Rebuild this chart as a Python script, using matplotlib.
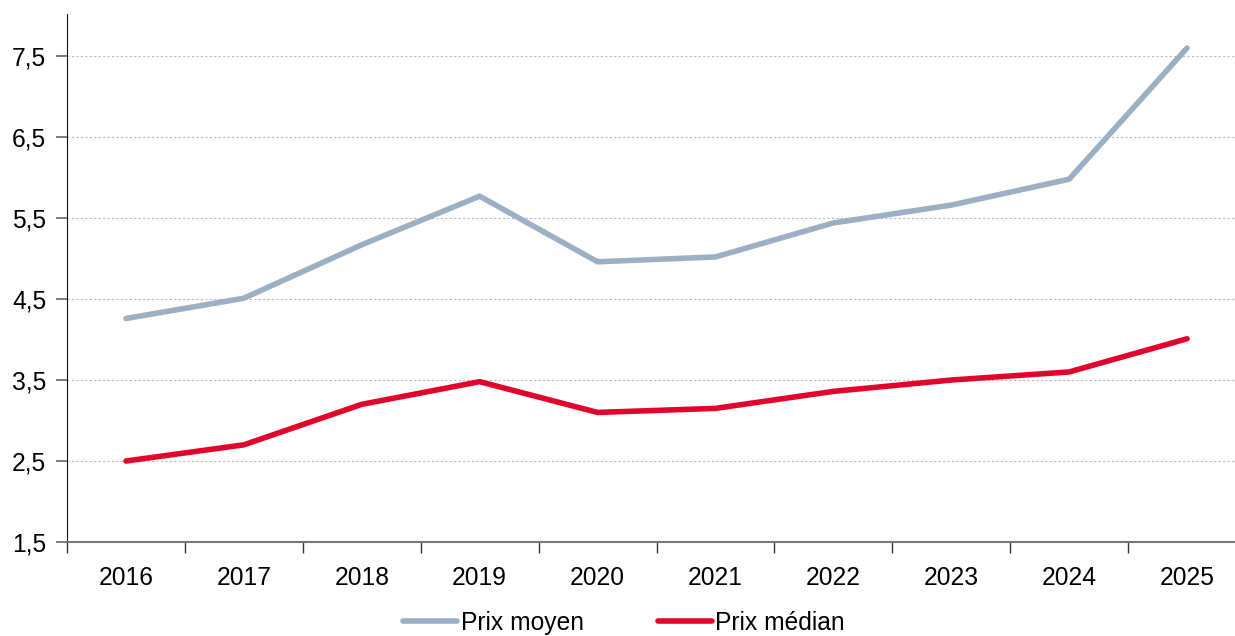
import numpy as np
import matplotlib.pyplot as plt
from matplotlib.ticker import FixedLocator, FuncFormatter

plt.rcParams['font.family'] = ['Liberation Sans', 'DejaVu Sans']

# Data
years = ["2016", "2017", "2018", "2019", "2020", "2021", "2022", "2023", "2024", "2025"]
prix_moyen = [4.26, 4.51, 5.17, 5.77, 4.96, 5.02, 5.44, 5.66, 5.98, 7.60]
prix_median = [2.50, 2.70, 3.20, 3.48, 3.10, 3.15, 3.36, 3.50, 3.60, 4.01]
yticks = [1.5, 2.5, 3.5, 4.5, 5.5, 6.5, 7.5]

fig = plt.figure(figsize=(12.35, 6.36), dpi=100)
ax = fig.add_axes([67 / 1235, 94 / 636, (1246 - 67) / 1235, 528 / 636])

x = np.arange(len(years))
ax.plot(x, prix_moyen, color='#9BB0C2', lw=4, label='Prix moyen', solid_capstyle='round')
ax.plot(x, prix_median, color='#E2052B', lw=4, label='Prix médian', solid_capstyle='round')

ax.set_xlim(-0.5, len(years) - 0.5)
ax.set_ylim(1.5, 8.02)

ax.set_yticks(yticks)
ax.yaxis.set_major_formatter(FuncFormatter(lambda v, p: f"{v:.1f}".replace('.', ',')))
ax.grid(axis='y', color='#BBBBBB', ls=(0, (2, 2)), lw=0.8)
ax.set_axisbelow(True)

# category labels centred, tick marks between categories
ax.set_xticks(x)
ax.set_xticklabels(years)
ax.xaxis.set_minor_locator(FixedLocator(np.arange(-0.5, len(years), 1.0)))
ax.tick_params(axis='x', which='major', length=0, pad=17, labelsize=17.7)
ax.tick_params(axis='x', which='minor', length=8, color='#333333', width=1)
ax.tick_params(axis='y', length=8, color='#666666', width=1.2, labelsize=17.7, pad=7)

for s in ['top', 'right']:
    ax.spines[s].set_visible(False)
ax.spines['left'].set_color('#111111')
ax.spines['bottom'].set_color('#777777')
ax.spines['bottom'].set_linewidth(1.5)

fig.legend(loc='center', bbox_to_anchor=(624 / 1235, 13 / 636), ncol=2, frameon=False,
           fontsize=17.7, handlelength=2.2, handletextpad=0.15, columnspacing=3.0,
           borderpad=0.1)

fig.savefig('out.png', dpi=100)
